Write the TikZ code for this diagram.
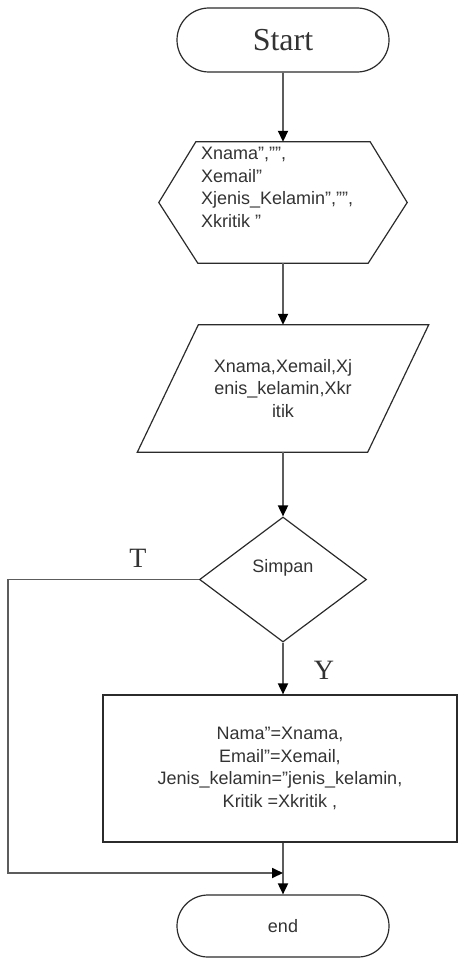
\documentclass[tikz,border=0pt]{standalone}
\usepackage{fontspec}
\setmainfont{Liberation Serif}
\setsansfont{Liberation Sans}
\usetikzlibrary{arrows.meta,shapes.geometric,shapes.misc,calc}

\definecolor{lineclr}{HTML}{2B2B2B}
\definecolor{flowclr}{HTML}{5C5C5C}
\definecolor{txtclr}{HTML}{333333}

\tikzset{
  shapeline/.style={draw=lineclr, line width=1.2pt},
  terminal/.style={shapeline, rounded rectangle, minimum width=212pt, inner sep=0pt, text=txtclr},
  txt/.style={text=txtclr, font=\sffamily\fontsize{18}{22.5}\selectfont},
  decision/.style={shapeline, diamond, minimum width=167pt, minimum height=125pt, inner sep=0pt},
  process/.style={shapeline, rectangle, minimum width=354pt, minimum height=147pt, align=center, txt},
  flow/.style={draw=flowclr, line width=1.8pt, -{Triangle[length=11pt, width=10pt, color=black]}},
  branch/.style={text=txtclr, font=\fontsize{28}{30}\selectfont}
}

\begin{document}
\begin{tikzpicture}[x=1pt, y=-1pt]
  \useasboundingbox (0,0) rectangle (459,958);

  % terminal start
  \node [terminal, minimum height=64pt, font=\fontsize{32}{36}\selectfont] (start) at (283,40) {Start};

  % preparation (hexagon)
  \node [minimum width=248pt, minimum height=121pt, inner sep=0pt] (init) at (283,202.5) {};
  \draw [shapeline] (init.west) -- ($(init.north west)+(37,0)$) -- ($(init.north east)+(-37,0)$)
        -- (init.east) -- ($(init.south east)+(-39,0)$) -- ($(init.south west)+(39,0)$) -- cycle;
  \node [txt, anchor=north west, align=left, inner sep=0pt] (initTxt) at (201,147)
        {Xnama","",\\Xemail"\\Xjenis\_Kelamin","",\\Xkritik "};

  % input (parallelogram)
  \node [txt, align=center, minimum width=291pt, minimum height=127pt, inner sep=0pt] (input) at (283,388.5)
        {Xnama,Xemail,Xj\\enis\_kelamin,Xkr\\itik};
  \draw [shapeline] (input.south west) -- ($(input.north west)+(61,0)$) -- (input.north east)
        -- ($(input.south east)+(-61,0)$) -- cycle;

  % decision
  \node [decision, label={[txt, yshift=12pt]center:Simpan}] (dec) at (283,579.5) {};

  % process
  \node [process] (save) at (280,768.5)
        {Nama"=Xnama,\\Email"=Xemail,\\Jenis\_kelamin="jenis\_kelamin,\\Kritik =Xkritik ,};

  % terminal end
  \node [terminal, minimum height=62pt, txt] (stop) at (283,926) {end};

  \coordinate (loop) at (8,579.5);
  \coordinate (join) at (283,873);

  % connectors
  \draw [flow] (start) -- (init);
  \draw [flow] (init) -- (input);
  \draw [flow] (input) -- (dec);
  \draw [flow] (dec.south) -- (dec.south |- save.north);
  \draw [flow] (stop.north |- save.south) -- (stop.north);
  \draw [flow] (dec.west) -- (loop) |- (join);

  % branch labels
  \node [branch] (lblT) at (138,558) {T};
  \node [branch] (lblY) at (324,670) {Y};
\end{tikzpicture}
\end{document}
